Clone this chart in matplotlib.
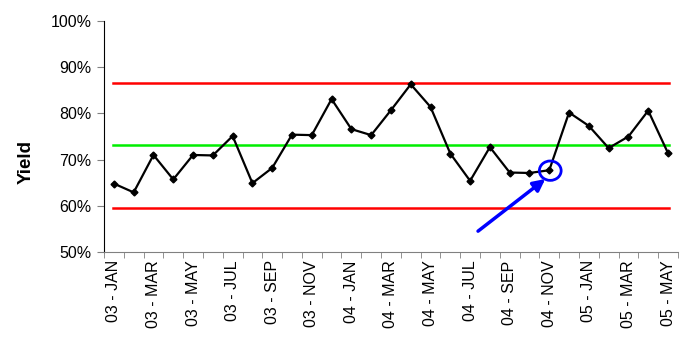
import numpy as np
import matplotlib.pyplot as plt
from matplotlib.patches import Ellipse

plt.rcParams['font.family'] = ['Liberation Sans', 'DejaVu Sans']

# meses de 03-JAN ate 05-MAY
meses = ['JAN', 'FEB', 'MAR', 'APR', 'MAY', 'JUN', 'JUL', 'AUG', 'SEP', 'OCT', 'NOV', 'DEC']
rotulos = []
for ano in ['03', '04', '05']:
    for m in meses:
        rotulos.append(ano + ' - ' + m)
rotulos = rotulos[:29]

# rendimento (%)
yield_pct = [64.8, 62.9, 71.0, 65.7, 71.0, 70.9, 75.1, 64.9, 68.2, 75.4,
             75.3, 83.1, 76.6, 75.3, 80.7, 86.3, 81.4, 71.3, 65.4, 72.7,
             67.2, 67.1, 67.7, 80.2, 77.3, 72.5, 75.0, 80.6, 71.4]

ucl = 86.6
media = 73.1
lcl = 59.5
destaque = 22  # 04 - NOV

x = np.arange(len(yield_pct))

fig = plt.figure(figsize=(6.86, 3.4), dpi=100)
ax = fig.add_axes([0.1516, 0.259, 0.8366, 0.679])

ax.plot([-0.05, len(x) - 0.95], [ucl, ucl], color='#ff0000', lw=1.8)
ax.plot([-0.05, len(x) - 0.95], [lcl, lcl], color='#ff0000', lw=1.8)
ax.plot([-0.05, len(x) - 0.95], [media, media], color='#00ee00', lw=1.8)
ax.plot(x, yield_pct, color='black', lw=1.6, marker='D', ms=3.5, zorder=3)

# circulo e seta
ax.add_patch(Ellipse((x[destaque] + 0.05, yield_pct[destaque] - 0.1), 1.1, 4.2,
                     fill=False, edgecolor='#0000ff', lw=2, zorder=4))
ax.annotate('', xy=(x[destaque] - 0.2, yield_pct[destaque] - 1.9),
            xytext=(x[destaque] - 3.6, yield_pct[destaque] - 13.2),
            arrowprops=dict(arrowstyle='-|>,head_width=0.35,head_length=0.7',
                            color='#0000ff', lw=2.5, shrinkA=0, shrinkB=0))

ax.set_xlim(-0.5, len(x) - 0.5)
ax.set_ylim(50, 100)
ax.set_yticks(range(50, 101, 10))
ax.set_yticklabels([f'{v}%' for v in range(50, 101, 10)], fontsize=11.5)
ax.set_xticks(x[::2])
ax.set_xticklabels(rotulos[::2], rotation=90, fontsize=11.5)
ax.set_xticks(np.arange(-0.5, len(x), 1), minor=True)
ax.tick_params(axis='x', which='major', length=0, pad=6)
ax.tick_params(axis='x', which='minor', length=4, color='#808080')
ax.tick_params(axis='y', length=5, color='#808080', pad=4)

ax.spines['top'].set_visible(False)
ax.spines['right'].set_visible(False)
ax.spines['bottom'].set_color('#808080')
ax.spines['left'].set_color('black')

ax.set_ylabel('Yield', fontsize=13.5, fontweight='bold')
ax.yaxis.set_label_coords(-0.12, 0.39)

plt.savefig('out.png', dpi=100)
